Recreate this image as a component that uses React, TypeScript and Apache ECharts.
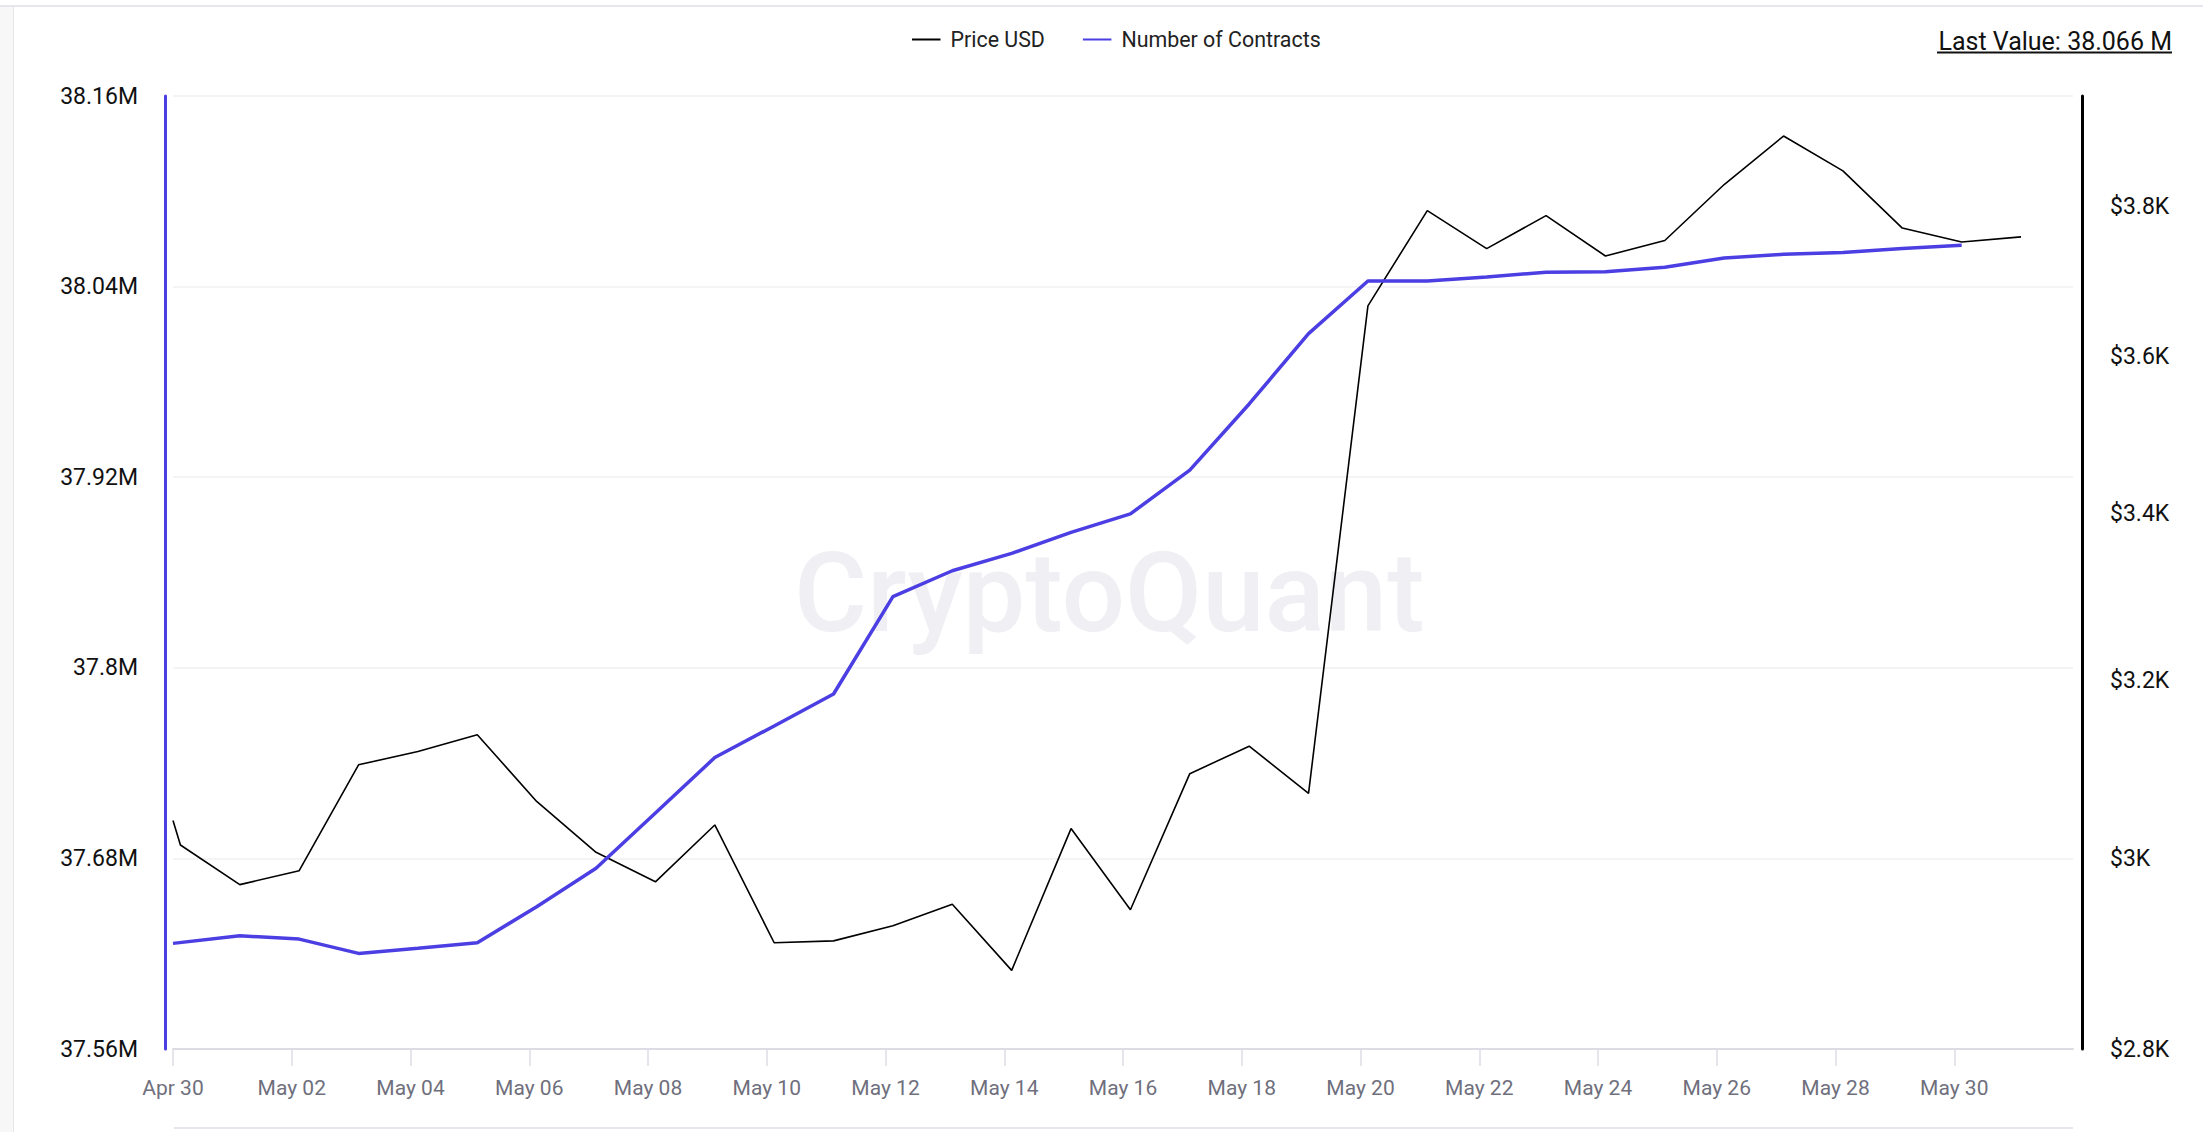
import React, { useEffect, useRef } from "react";
import * as echarts from "echarts";

// ---- data ----
const priceTimes = [
  "2024-04-30T00:00", "2024-04-30T03:00", "2024-05-01T03:00", "2024-05-02T03:00", "2024-05-03T03:00",
  "2024-05-04T03:00", "2024-05-05T03:00", "2024-05-06T03:00", "2024-05-07T03:00", "2024-05-08T03:00",
  "2024-05-09T03:00", "2024-05-10T03:00", "2024-05-11T03:00", "2024-05-12T03:00", "2024-05-13T03:00",
  "2024-05-14T03:00", "2024-05-15T03:00", "2024-05-16T03:00", "2024-05-17T03:00", "2024-05-18T03:00",
  "2024-05-19T03:00", "2024-05-20T03:00", "2024-05-21T03:00", "2024-05-22T03:00", "2024-05-23T03:00",
  "2024-05-24T03:00", "2024-05-25T03:00", "2024-05-26T03:00", "2024-05-27T03:00", "2024-05-28T03:00",
  "2024-05-29T03:00", "2024-05-30T03:00", "2024-05-31T03:00",
];
const priceValues = [
  3042, 3015, 2972, 2987, 3104, 3119, 3138, 3063, 3007, 2975,
  3037, 2910, 2912, 2928, 2951, 2881, 3033, 2945, 3094, 3125,
  3072, 3666, 3795, 3743, 3788, 3733, 3754, 3831, 3899, 3850,
  3771, 3752, 3759,
];

const contractTimes = [
  "2024-04-30T00:00", "2024-05-01T03:00", "2024-05-02T03:00", "2024-05-03T03:00", "2024-05-04T03:00",
  "2024-05-05T03:00", "2024-05-06T03:00", "2024-05-07T03:00", "2024-05-08T03:00", "2024-05-09T03:00",
  "2024-05-10T03:00", "2024-05-11T03:00", "2024-05-12T03:00", "2024-05-13T03:00", "2024-05-14T03:00",
  "2024-05-15T03:00", "2024-05-16T03:00", "2024-05-17T03:00", "2024-05-18T03:00", "2024-05-19T03:00",
  "2024-05-20T03:00", "2024-05-21T03:00", "2024-05-22T03:00", "2024-05-23T03:00", "2024-05-24T03:00",
  "2024-05-25T03:00", "2024-05-26T03:00", "2024-05-27T03:00", "2024-05-28T03:00", "2024-05-29T03:00",
  "2024-05-30T03:00",
];
const contractValues = [
  37.6265, 37.6313, 37.6292, 37.6202, 37.6234, 37.6269, 37.6496, 37.6738, 37.7086, 37.7435,
  37.7634, 37.7835, 37.8448, 37.8611, 37.8720, 37.8853, 37.8969, 37.9245, 37.9661, 38.0104,
  38.0435, 38.0435, 38.0461, 38.0490, 38.0493, 38.0522, 38.0580, 38.0603, 38.0615, 38.0640,
  38.0660,
];

const xStart = "2024-04-30T00:00";
const xDays = 32; // axis spans Apr 30 00:00 – Jun 01 00:00
const xLabelStep = 2; // a label every second day
const leftAxisRange = [37.56e6, 38.16e6];
const leftAxisStep = 0.12e6;
const rightAxisRange = [2800, 3956];
const rightTicks = [2800, 3000, 3200, 3400, 3600, 3800];
const legendNames = ["Price USD", "Number of Contracts"];
const lastValueText = "Last Value: 38.066 M";
const watermarkText = "CryptoQuant";

const MONTHS = ["Jan", "Feb", "Mar", "Apr", "May", "Jun", "Jul", "Aug", "Sep", "Oct", "Nov", "Dec"];
const DAY = 86400000;
const t0 = new Date(xStart).getTime();
const toDay = (s: string) => (new Date(s).getTime() - t0) / DAY;

const PURPLE = "#4b3ee2";

export default function App() {
  const ref = useRef<HTMLDivElement>(null);

  useEffect(() => {
    if (!ref.current) return;
    const chart = echarts.init(ref.current, null, { renderer: "svg" });

    const priceData = priceTimes.map((t, i) => [toDay(t), priceValues[i]]);
    const contractData = contractTimes.map((t, i) => [toDay(t), contractValues[i] * 1e6]);

    chart.setOption({
      animation: false,
      backgroundColor: "transparent",
      textStyle: { fontFamily: "Roboto" },
      grid: { left: 173, right: 130, top: 96, bottom: 83, containLabel: false },
      legend: {
        left: 906,
        top: 24,
        itemWidth: 28.5,
        itemHeight: 14,
        itemGap: 37,
        data: legendNames,
        itemStyle: { opacity: 0 },
        textStyle: { fontSize: 21.4, color: "#222", fontFamily: "Roboto", padding: [0, 0, 0, 5] },
      },
      xAxis: {
        type: "value",
        min: 0,
        max: xDays,
        interval: xLabelStep,
        axisLine: { show: true, onZero: false, lineStyle: { color: "#dcdce4", width: 2 } },
        axisTick: { show: true, length: 17, lineStyle: { color: "#dcdce4", width: 1.5 } },
        axisLabel: {
          showMaxLabel: false,
          margin: 28,
          fontSize: 21,
          color: "#6f6f7d",
          fontFamily: "Roboto",
          formatter: (v: number) => {
            const d = new Date(t0 + Math.round(v) * DAY);
            return MONTHS[d.getMonth()] + " " + String(d.getDate()).padStart(2, "0");
          },
        },
        splitLine: { show: false },
      },
      yAxis: [
        {
          type: "value",
          position: "left",
          min: leftAxisRange[0],
          max: leftAxisRange[1],
          interval: leftAxisStep,
          offset: 8,
          axisLine: { show: true, onZero: false, lineStyle: { color: PURPLE, width: 3 } },
          axisTick: { show: false },
          axisLabel: {
            margin: 27,
            fontSize: 23,
            color: "#111",
            fontFamily: "Roboto",
            formatter: (v: number) => Math.round(v / 1e4) / 100 + "M",
          },
          splitLine: { show: true, lineStyle: { color: "#f0f0f3", width: 1.5 } },
        },
        {
          type: "log",
          logBase: 10,
          position: "right",
          min: rightAxisRange[0],
          max: rightAxisRange[1],
          offset: 9,
          axisLine: { show: true, onZero: false, lineStyle: { color: "#000", width: 3 } },
          axisTick: { show: false },
          axisLabel: {
            customValues: rightTicks,
            margin: 28,
            fontSize: 23,
            color: "#111",
            fontFamily: "Roboto",
            formatter: (v: number) => "$" + Math.round(v / 100) / 10 + "K",
          },
          splitLine: { show: false },
          minorSplitLine: { show: false },
        },
      ],
      graphic: [
        {
          type: "text",
          left: 794,
          top: 536,
          z: 0,
          silent: true,
          style: {
            text: watermarkText,
            fontSize: 112,
            fontWeight: 500,
            fontFamily: "Roboto",
            fill: "#efeff4",
          },
        },
        {
          type: "text",
          x: 2172,
          y: 41.5,
          style: {
            text: lastValueText,
            fontSize: 25,
            fontFamily: "Roboto",
            fill: "#111",
            align: "right",
            verticalAlign: "middle",
          },
        },
        {
          type: "rect",
          shape: { x: 1937, y: 51.5, width: 235, height: 2 },
          style: { fill: "#111" },
        },
        {
          type: "rect",
          shape: { x: 174, y: 1127, width: 1899, height: 2 },
          style: { fill: "#e6e6ec" },
        },
      ],
      series: [
        {
          name: legendNames[0],
          type: "line",
          yAxisIndex: 1,
          data: priceData,
          symbol: "none",
          showSymbol: false,
          z: 3,
          color: "#000",
          lineStyle: { color: "#000", width: 1.6 },
        },
        {
          name: legendNames[1],
          type: "line",
          yAxisIndex: 0,
          data: contractData,
          symbol: "none",
          showSymbol: false,
          z: 4,
          color: PURPLE,
          lineStyle: { color: PURPLE, width: 3.5 },
        },
      ],
    });

    return () => chart.dispose();
  }, []);

  return (
    <div style={{ position: "absolute", left: 0, top: 0, width: 2203, height: 1132, background: "#fff", overflow: "hidden" }}>
      <div style={{ position: "absolute", left: 0, top: 6, width: 13, height: 1126, background: "#f7f7f8", borderRight: "1px solid #e8e8ec" }} />
      <div style={{ position: "absolute", left: 0, top: 5, width: 2203, height: 2, background: "#e6e6ee" }} />
      <div ref={ref} style={{ position: "absolute", left: 0, top: 0, width: 2203, height: 1132 }} />
    </div>
  );
}
